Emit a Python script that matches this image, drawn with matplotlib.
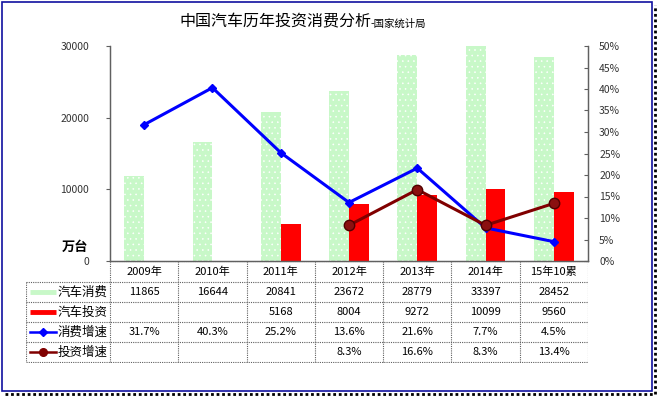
import matplotlib
matplotlib.use("Agg")
import matplotlib.pyplot as plt
import numpy as np
from matplotlib.lines import Line2D
from matplotlib.patches import Rectangle

plt.rcParams['font.family'] = ['Noto Sans CJK SC', 'DejaVu Sans']
plt.rcParams['hatch.color'] = '#eafcea'
plt.rcParams['hatch.linewidth'] = 0.4

categories = ["2009年", "2010年", "2011年", "2012年", "2013年", "2014年", "15年10累"]
consumption = [11865, 16644, 20841, 23672, 28779, 33397, 28452]
investment = [np.nan, np.nan, 5168, 8004, 9272, 10099, 9560]
cons_growth = [31.7, 40.3, 25.2, 13.6, 21.6, 7.7, 4.5]
inv_growth = [np.nan, np.nan, np.nan, 8.3, 16.6, 8.3, 13.4]
series_names = ["汽车消费", "汽车投资", "消费增速", "投资增速"]

W, H = 657, 396
fig = plt.figure(figsize=(W / 100, H / 100), dpi=100)

GREEN = '#c8f8c8'
RED = '#ff0000'
BLUE = '#0000ff'
DRED = '#800000'
GRID = '#606060'

# plot area in pixels
px_l, px_r, px_t, px_b = 110, 588, 46, 261
ax = fig.add_axes([px_l / W, 1 - px_b / H, (px_r - px_l) / W, (px_b - px_t) / H])
x = np.arange(len(categories))
bw = 0.29
ax.bar(x - bw / 2, consumption, width=bw, color=GREEN, hatch='...', edgecolor='white', linewidth=0)
ax.bar(x + bw / 2, investment, width=bw, color=RED, linewidth=0)
ax.set_xlim(-0.5, len(categories) - 0.5)
ax.set_ylim(0, 30000)
ax.set_yticks([0, 10000, 20000, 30000])
ax.set_yticklabels(["0", "10000", "20000", "30000"], fontsize=7.5, color='#333333')
ax.tick_params(axis='y', direction='out', length=3, color=GRID, pad=12)
ax.set_xticks([])
for s in ['top']:
    ax.spines[s].set_visible(False)
for s in ['left', 'bottom', 'right']:
    ax.spines[s].set_color(GRID)
    ax.spines[s].set_linewidth(0.9)

ax2 = ax.twinx()
ax2.plot(x, np.array(cons_growth) / 100, color=BLUE, lw=2.2, marker='D', markersize=4.5,
         markerfacecolor=BLUE, markeredgecolor=BLUE, zorder=3)
ax2.plot(x, np.array(inv_growth) / 100, color=DRED, lw=2.2, marker='o', markersize=7.5,
         markerfacecolor='#8a1010', markeredgecolor='#500000', zorder=4)
ax2.set_ylim(0, 0.5)
ax2.set_yticks(np.arange(0, 0.501, 0.05))
ax2.set_yticklabels([f"{int(round(v * 100))}%" for v in np.arange(0, 0.501, 0.05)],
                    fontsize=7.5, color='#333333')
ax2.tick_params(axis='y', direction='in', length=3, color=GRID, pad=8)
ax2.spines['top'].set_visible(False)
for s in ['left', 'bottom', 'right']:
    ax2.spines[s].set_color(GRID)
    ax2.spines[s].set_linewidth(0.9)

fig.text(88 / W, 1 - 247 / H, "万台", fontsize=9.5, fontweight='bold', ha='right', va='center')

# title
fig.text(371 / W, 1 - 22 / H, "中国汽车历年投资消费分析", fontsize=11.5, ha='right', va='center')
fig.text(371 / W, 1 - 24 / H, "-国家统计局", fontsize=7.5, ha='left', va='center')

# data table
cat_px = (px_r - px_l) / len(categories)
tl, tb = 26, 363
tax = fig.add_axes([tl / W, 1 - tb / H, (px_r - tl) / W, (tb - px_b) / H])
x_left = -0.5 - (px_l - tl) / cat_px
tax.set_xlim(x_left, len(categories) - 0.5)
rows_y = [0, 21, 41, 61, 81, 101]
tax.set_ylim(102, 0)
tax.axis('off')
lk = dict(color=GRID, lw=0.8, linestyle=(0, (1, 1)))
n = len(categories)
tax.plot([-0.5, n - 0.5], [0, 0], **lk)
for yv in rows_y[1:]:
    tax.plot([x_left, n - 0.5], [yv, yv], **lk)
for k in range(n + 1):
    tax.plot([k - 0.5, k - 0.5], [0, rows_y[-1]], **lk)
tax.plot([x_left, x_left], [rows_y[1], rows_y[-1]], **lk)

fs = 8
for i, c in enumerate(categories):
    tax.text(i, (rows_y[0] + rows_y[1]) / 2, c, ha='center', va='center', fontsize=fs)
table_rows = [
    [f"{v}" for v in consumption],
    ["" if np.isnan(v) else f"{int(v)}" for v in investment],
    [f"{v:.1f}%" for v in cons_growth],
    ["" if np.isnan(v) else f"{v:.1f}%" for v in inv_growth],
]
for r, row in enumerate(table_rows):
    yc = (rows_y[r + 1] + rows_y[r + 2]) / 2
    for i, t in enumerate(row):
        tax.text(i, yc, t, ha='center', va='center', fontsize=fs)

k0 = x_left + 4 / cat_px
k1 = x_left + 30 / cat_px
kc = (k0 + k1) / 2
ytab = [(rows_y[r + 1] + rows_y[r + 2]) / 2 for r in range(4)]
tax.plot([k0, k1], [ytab[0], ytab[0]], color=GREEN, lw=3.5, solid_capstyle='butt')
tax.plot([k0, k1], [ytab[1], ytab[1]], color=RED, lw=3.5, solid_capstyle='butt')
tax.plot([k0, k1], [ytab[2], ytab[2]], color=BLUE, lw=1.8)
tax.plot([kc], [ytab[2]], marker='D', markersize=4, color=BLUE)
tax.plot([k0, k1], [ytab[3], ytab[3]], color=DRED, lw=1.8)
tax.plot([kc], [ytab[3]], marker='o', markersize=5.5, color=DRED)
for r, name in enumerate(series_names):
    tax.text(x_left + 32 / cat_px, ytab[r], name, ha='left', va='center', fontsize=9)

# outer border with shadow
fig.patches.append(Rectangle((2 / W, 1 - 391 / H), 650 / W, 389 / H, transform=fig.transFigure,
                             fill=False, edgecolor='#1010a0', lw=1.2))
fig.lines.append(Line2D([654.5 / W, 654.5 / W], [1 - 394 / H, 1 - 5 / H], transform=fig.transFigure,
                        color='black', lw=2, linestyle=(0, (1, 1))))
fig.lines.append(Line2D([5 / W, 654.5 / W], [1 - 394 / H, 1 - 394 / H], transform=fig.transFigure,
                        color='black', lw=2, linestyle=(0, (1, 1))))

fig.savefig("out.png", dpi=100)
